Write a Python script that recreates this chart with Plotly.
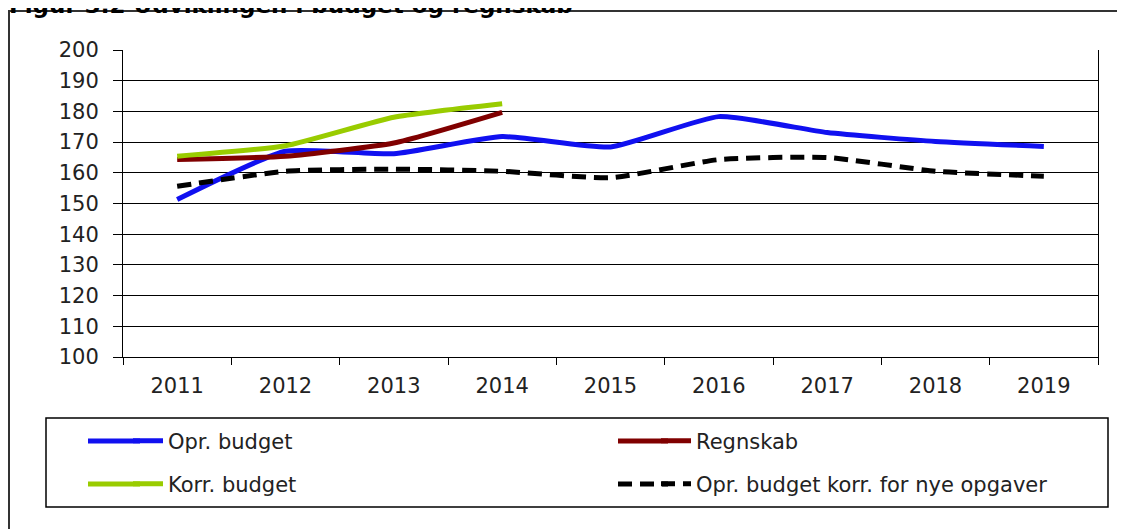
import plotly.graph_objects as go

years = ["2011", "2012", "2013", "2014", "2015", "2016", "2017", "2018", "2019"]
years_short = ["2011", "2012", "2013", "2014"]
opr_budget = [151.3, 167.0, 166.2, 171.8, 168.4, 178.3, 173.1, 170.2, 168.6]
regnskab = [164.3, 165.4, 169.7, 179.7]
korr_budget = [165.4, 168.8, 178.1, 182.5]
opr_korr = [155.6, 160.5, 161.2, 160.5, 158.4, 164.3, 165.0, 160.5, 158.9]
y_ticks = [100, 110, 120, 130, 140, 150, 160, 170, 180, 190, 200]

OFF = 8  # page body margin
W, H = 1125 - OFF, 529 - OFF
# plot area in page pixels: x 123..1098, y 50..357
L = 123 - OFF
T = 50 - OFF
R = W - (1098 - OFF)
B = H - (357 - OFF)
pw, ph = W - L - R, H - T - B

def px(X):
    return (X - OFF - L) / pw

def py(Y):
    return (H - B - (Y - OFF)) / ph

FONT = "DejaVu Sans"
BLUE, RED, GREEN, BLACK = "#1010F0", "#800000", "#99CC00", "#000000"
fig = go.Figure()
fig.add_trace(go.Scatter(x=years, y=opr_budget, name="Opr. budget", mode="lines",
                         line=dict(color=BLUE, width=5, shape="spline", smoothing=0.5),
                         legend="legend"))
fig.add_trace(go.Scatter(x=years_short, y=regnskab, name="Regnskab", mode="lines",
                         line=dict(color=RED, width=5, shape="spline", smoothing=0.5),
                         legend="legend2"))
fig.add_trace(go.Scatter(x=years_short, y=korr_budget, name="Korr. budget", mode="lines",
                         line=dict(color=GREEN, width=5, shape="spline", smoothing=0.5),
                         legend="legend3"))
fig.add_trace(go.Scatter(x=years, y=opr_korr, name="Opr. budget korr. for nye opgaver", mode="lines",
                         line=dict(color=BLACK, width=5, dash="14px,8px", shape="spline", smoothing=0.5),
                         legend="legend4"))

def leg(X, Y):
    return dict(orientation="h", xanchor="left", yanchor="middle",
                x=px(X), y=py(Y),
                font=dict(family=FONT, size=21, color="#222222"),
                bgcolor="rgba(0,0,0,0)", borderwidth=0)

def sample(X0, X1, Y, color, dash="solid"):
    return dict(type="line", xref="paper", yref="paper",
                x0=px(X0), x1=px(X1), y0=py(Y), y1=py(Y),
                line=dict(color=color, width=5, dash=dash))

fig.update_layout(
    width=W, height=H,
    margin=dict(l=L, r=R, t=T, b=B, autoexpand=False),
    paper_bgcolor="white", plot_bgcolor="white",
    font=dict(family=FONT, size=21, color="#222222"),
    showlegend=True,
    legend=leg(128, 441),
    legend2=leg(656, 441),
    legend3=leg(128, 484),
    legend4=leg(656, 484),
    xaxis=dict(type="category", range=[-0.5, 8.5], tickson="boundaries", ticks="outside", ticklen=7,
               tickcolor="black", showline=True, linecolor="black", linewidth=1,
               showgrid=False, tickfont=dict(family=FONT, size=21, color="#222222"),
               ticklabelstandoff=10),
    yaxis=dict(range=[100, 200], tickvals=y_ticks, ticks="outside", ticklen=9,
               tickcolor="black", showline=True, linecolor="black", linewidth=1,
               mirror=True, showgrid=True, gridcolor="black", gridwidth=1,
               zeroline=False, tickfont=dict(family=FONT, size=21, color="#222222"),
               ticklabelstandoff=10),
    shapes=[
        dict(type="rect", xref="paper", yref="paper",
             x0=px(9), x1=px(1123), y0=py(560), y1=py(11),
             line=dict(color="#333333", width=2), fillcolor="rgba(0,0,0,0)", layer="below"),
        dict(type="rect", xref="paper", yref="paper",
             x0=px(46), x1=px(1108), y0=py(507), y1=py(418),
             line=dict(color="black", width=1.5), fillcolor="rgba(0,0,0,0)", layer="below"),
        sample(88, 140, 441, BLUE),
        sample(88, 140, 484, GREEN),
        sample(618, 668, 441, RED),
        sample(618, 668, 484, BLACK, "14px,8px"),
    ],
    annotations=[
        dict(text="<b>Figur 3.2 Udviklingen i budget og regnskab</b>", xref="paper", yref="paper",
             x=px(7), y=py(20), xanchor="left", yanchor="bottom", showarrow=False,
             font=dict(family=FONT, size=23, color="black")),
    ],
)

fig.write_html("out.html")
